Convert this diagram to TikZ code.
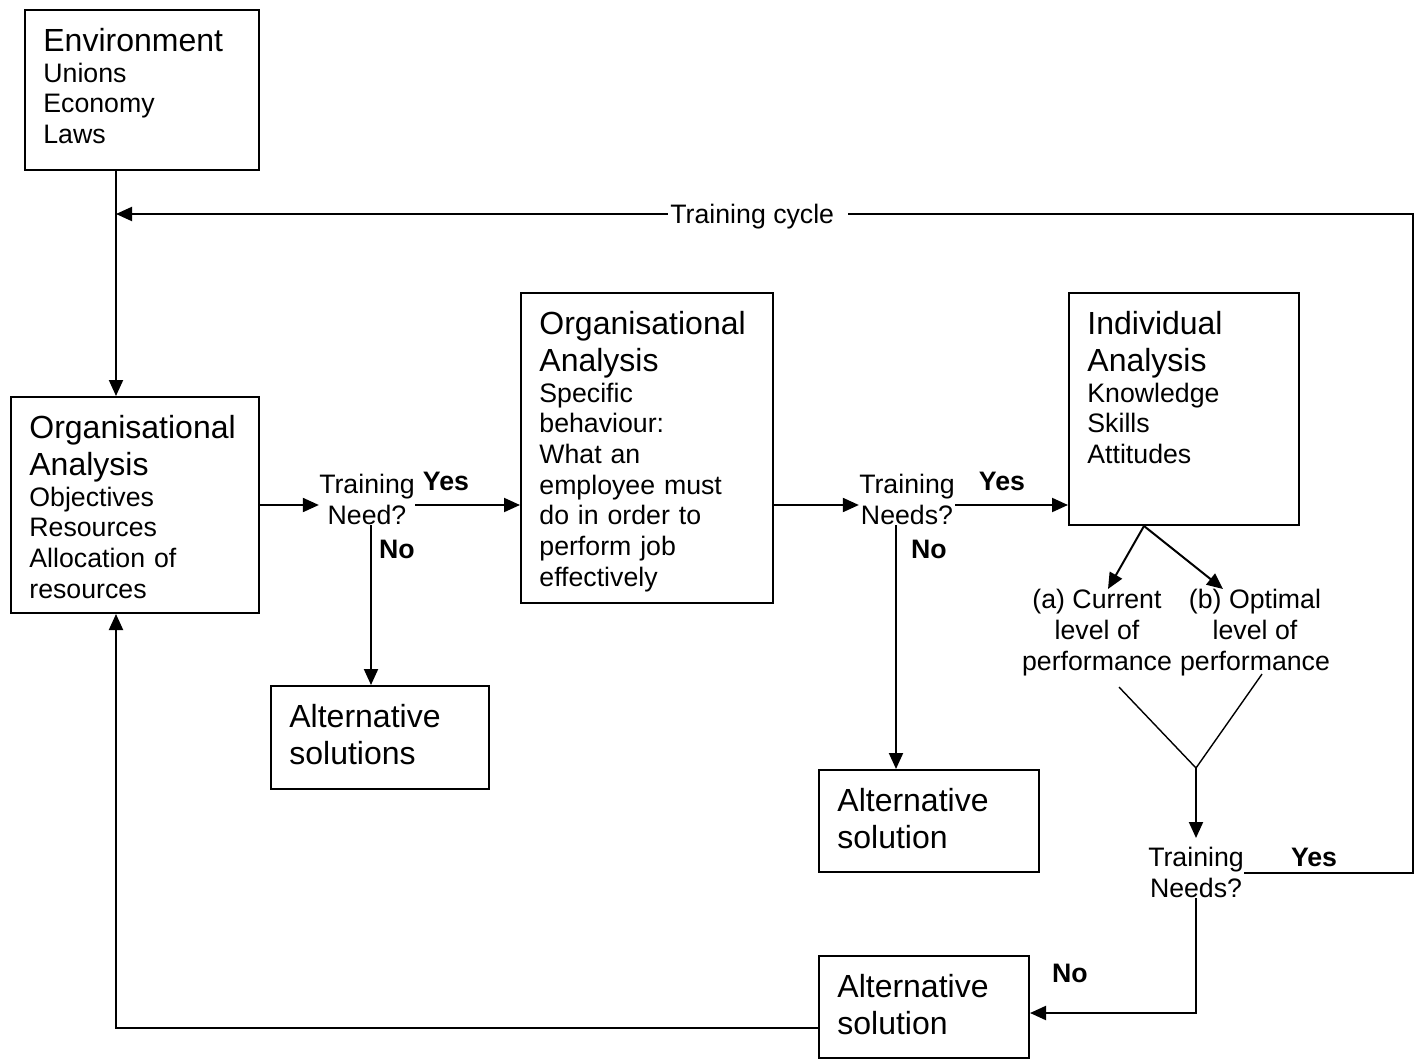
\documentclass[tikz,border=0pt]{standalone}
\usepackage{fontspec}
\setmainfont{Liberation Sans}
\usetikzlibrary{arrows.meta}
\usetikzlibrary{calc}

\newcommand{\headfont}{\fontsize{16}{18.4}\selectfont}
\newcommand{\bodyfont}{\fontsize{13.35}{15.35}\selectfont}

\begin{document}
\begin{tikzpicture}[x=0.5pt, y=-0.5pt]

% Define styles
\tikzset{
    box/.style={draw, line width=1pt, inner sep=0pt, anchor=north west},
    boxtext/.style={anchor=north west, inner sep=0pt, text width=118pt, align=left, font=\bodyfont},
    question/.style={anchor=north, inner sep=0pt, align=center, font=\bodyfont},
    answer/.style={inner sep=0pt, font=\bodyfont\bfseries},
    flow/.style={line width=1pt, -{Triangle[length=8pt, width=7pt]}},
    merge/.style={line width=0.7pt}
}

% page as large as the drawing
\useasboundingbox (0,0) rectangle (1418,1059);


% boxes
\node[box, minimum width=117pt, minimum height=80pt] (env) at (24,9) {};
\node[boxtext] (envtxt) at ([shift={(9.5pt,-9.5pt)}]env.north west) {{\headfont Environment\par}Unions\\Economy\\Laws};

\node[box, minimum width=124pt, minimum height=108pt] (oa1) at (10,396) {};
\node[boxtext] (oa1txt) at ([shift={(9.5pt,-9.5pt)}]oa1.north west) {{\headfont Organisational\\Analysis\par}Objectives\\Resources\\Allocation of\\resources};

\node[box, minimum width=126pt, minimum height=155pt] (oa2) at (520,292) {};
\node[boxtext] (oa2txt) at ([shift={(9.5pt,-9.5pt)}]oa2.north west) {{\headfont Organisational\\Analysis\par}Specific\\behaviour:\\What an\\employee must\\do in order to\\perform job\\effectively};

\node[box, minimum width=115pt, minimum height=116pt] (ia) at (1068,292) {};
\node[boxtext] (iatxt) at ([shift={(9.5pt,-9.5pt)}]ia.north west) {{\headfont Individual\\Analysis\par}Knowledge\\Skills\\Attitudes};

\node[box, minimum width=109pt, minimum height=51.5pt] (alt1) at (270,685) {};
\node[boxtext] (alt1txt) at ([shift={(9.5pt,-9.5pt)}]alt1.north west) {{\headfont Alternative\\solutions\par}};

\node[box, minimum width=110pt, minimum height=51pt] (alt2) at (818,769) {};
\node[boxtext] (alt2txt) at ([shift={(9.5pt,-9.5pt)}]alt2.north west) {{\headfont Alternative\\solution\par}};

\node[box, minimum width=105pt, minimum height=51pt] (alt3) at (818,955) {};
\node[boxtext] (alt3txt) at ([shift={(9.5pt,-9.5pt)}]alt3.north west) {{\headfont Alternative\\solution\par}};


% questions and levels
\node[question] (q1) at (367,474) {Training\\Need?};
\node[question] (q2) at (907,474) {Training\\Needs?};
\node[question] (q3) at (1196,847) {Training\\Needs?};

\node[question] (cur) at (1097,589) {(a) Current\\level of\\performance};
\node[question] (opt) at (1255,589) {(b) Optimal\\level of\\performance};

\node[answer] (yes1) at (446,481) {Yes};
\node[answer] (no1) at (397,549) {No};
\node[answer] (yes2) at (1002,481) {Yes};
\node[answer] (no2) at (929,549) {No};
\node[answer] (yes3) at (1314,857) {Yes};
\node[answer] (no3) at (1070,973) {No};


% helper points
\coordinate (envout) at ([xshift=-13pt]env.south);
\coordinate (loop) at (1413,214);
\coordinate (split) at ([xshift=38pt]ia.south west);
\coordinate (vtip) at (1196,768);


% environment and training cycle
\draw[flow] (envout) -- (envout |- oa1.north);
\draw[flow] (q3.east) -| (loop) -- (envout |- loop);
\node[fill=white, inner xsep=1pt, inner ysep=2pt, font=\bodyfont, anchor=base west] (cycle) at (668,224) {Training cycle\kern6pt};

% main row
\draw[flow] (oa1.east) -- (q1.west |- oa1.east);
\draw[flow] (q1.east |- oa1.east) -- (oa2.west |- oa1.east);
\draw[flow] (oa2.east |- oa1.east) -- (q2.west |- oa1.east);
\draw[flow] (q2.east |- oa1.east) -- (ia.west |- oa1.east);

\draw[flow] ([xshift=2pt]q1.south) -- ([xshift=2pt]q1.south |- alt1.north);
\draw[flow] ([xshift=-5.5pt]q2.south) -- ([xshift=-5.5pt]q2.south |- alt2.north);

% individual analysis
\draw[flow] (split) -- ([xshift=5.5pt]cur.north);
\draw[flow] (split) -- ([xshift=-16pt]opt.north);
\draw[merge] ([shift={(11pt,-5.5pt)}]cur.south) -- (vtip) -- ([shift={(3.5pt,1pt)}]opt.south);
\draw[flow] (vtip) -- ([yshift=4.5pt]q3.north);

% back to the start
\draw[flow] (q3.south) |- ([yshift=-3pt]alt3.east);
\draw[flow] ([yshift=-10.5pt]alt3.west) -| (envout |- oa1.south);

\end{tikzpicture}
\end{document}
